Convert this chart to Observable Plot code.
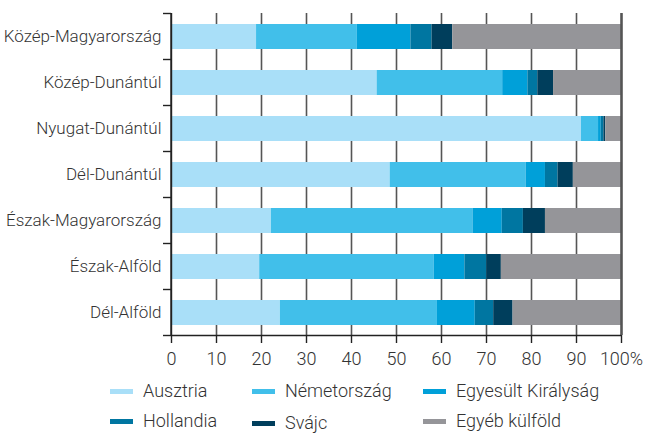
<!DOCTYPE html>
<html>
<head>
<meta charset="utf-8">
<script src="https://cdn.jsdelivr.net/npm/d3@7"></script>
<script src="https://cdn.jsdelivr.net/npm/@observablehq/plot@0.6"></script>
<style>
  html, body { margin: 0; padding: 0; background: #fff; }
  body { width: 649px; height: 435px; position: relative; overflow: hidden;
         font-family: Roboto, sans-serif; font-weight: 300; color: #333; }
  #chart { position: absolute; left: 0; top: 0; }
  #chart svg text { font-weight: 300; }
  .leg { position: absolute; font-size: 18px; line-height: 18px; white-space: nowrap; }
  .sw { position: absolute; width: 23px; height: 5px; }
</style>
</head>
<body>
<div id="chart"></div>
<div id="legend"></div>
<script>
const regions = ["Közép-Magyarország", "Közép-Dunántúl", "Nyugat-Dunántúl", "Dél-Dunántúl", "Észak-Magyarország", "Észak-Alföld", "Dél-Alföld"];
const series = ["Ausztria", "Németország", "Egyesült Királyság", "Hollandia", "Svájc", "Egyéb külföld"];
const colors = ["#a9dff8", "#41bfea", "#00a0d9", "#0076a1", "#003e5c", "#959599"];
const ausztria     = [18.9, 45.7, 91.1, 48.6, 22.2, 19.6, 24.2];
const nemetorszag  = [22.4, 27.9, 3.8, 30.2, 44.8, 38.8, 34.9];
const egyesult     = [11.9, 5.6, 0.6, 4.3, 6.5, 6.8, 8.4];
const hollandia    = [4.7, 2.2, 0.6, 2.8, 4.7, 4.9, 4.1];
const svajc        = [4.6, 3.5, 0.4, 3.4, 4.9, 3.2, 4.3];
const egyeb        = [37.5, 15.1, 3.5, 10.7, 16.9, 26.7, 24.1];
const xTicks = [0, 10, 20, 30, 40, 50, 60, 70, 80, 90, 100];
const xTickLabels = ["0", "10", "20", "30", "40", "50", "60", "70", "80", "90", "100%"];

const valuesBySeries = [ausztria, nemetorszag, egyesult, hollandia, svajc, egyeb];
const data = [];
regions.forEach((r, i) => series.forEach((s, j) => data.push({region: r, series: s, value: valuesBySeries[j][i]})));

const plot = Plot.plot({
  width: 649,
  height: 372,
  marginLeft: 171,
  marginRight: 28,
  marginTop: 13,
  marginBottom: 37,
  style: {fontFamily: "Roboto, sans-serif", fontSize: "18px", color: "#333", background: "transparent"},
  x: {domain: [0, 100]},
  y: {domain: regions, paddingInner: 0.46, paddingOuter: 0.23},
  color: {domain: series, range: colors},
  marks: [
    Plot.ruleX(xTicks.slice(1, -1), {stroke: "#555", strokeWidth: 1.6}),
    Plot.barX(data, {y: "region", x: "value", fill: "series", order: series}),
    Plot.ruleX([100], {stroke: "#555", strokeWidth: 2.6}),
    Plot.ruleX([0], {stroke: "#222", strokeWidth: 1.4}),
    Plot.axisX({ticks: xTicks, tickFormat: (d, i) => xTickLabels[i], tickSize: 8, tickPadding: 9, label: null, stroke: "#222", strokeWidth: 1.4, fontSize: 18}),
    Plot.axisY({tickSize: 0, tickPadding: 10, label: null, fontSize: 17})
  ]
});
document.getElementById("chart").appendChild(plot);

// bottom axis line and band boundary ticks, derived from the plot's scales
const sx = plot.scale("x"), sy = plot.scale("y");
const svg = d3.select(plot);
const x0 = sx.apply(0), x1 = sx.apply(100);
const gap = (sy.step - sy.bandwidth) / 2;
const bounds = regions.map(r => sy.apply(r) - gap).concat([sy.apply(regions[regions.length - 1]) + sy.bandwidth + gap]);
const g = svg.append("g").attr("stroke", "#222").attr("stroke-width", 1.4);
g.append("line").attr("x1", x0).attr("x2", x1).attr("y1", bounds[bounds.length - 1]).attr("y2", bounds[bounds.length - 1]);
g.append("line").attr("x1", x0).attr("x2", x0).attr("y1", bounds[0]).attr("y2", bounds[bounds.length - 1]);
bounds.forEach(b => g.append("line").attr("x1", x0 - 8).attr("x2", x0).attr("y1", b).attr("y2", b));

// legend (HTML, below the SVG)
const legend = document.getElementById("legend");
const colX = [110, 252, 423];
const rowY = [391, 421];
series.forEach((s, i) => {
  const col = i % 3, row = Math.floor(i / 3);
  const yOff = s === "Svájc" ? 2 : 0;
  const sw = document.createElement("div");
  sw.className = "sw";
  sw.style.left = colX[col] + "px";
  sw.style.top = (rowY[row] + yOff - 2) + "px";
  sw.style.background = colors[i];
  legend.appendChild(sw);
  const t = document.createElement("div");
  t.className = "leg";
  t.textContent = s;
  t.style.left = (colX[col] + 33) + "px";
  t.style.top = (rowY[row] + yOff - 9) + "px";
  legend.appendChild(t);
});
</script>
</body>
</html>
